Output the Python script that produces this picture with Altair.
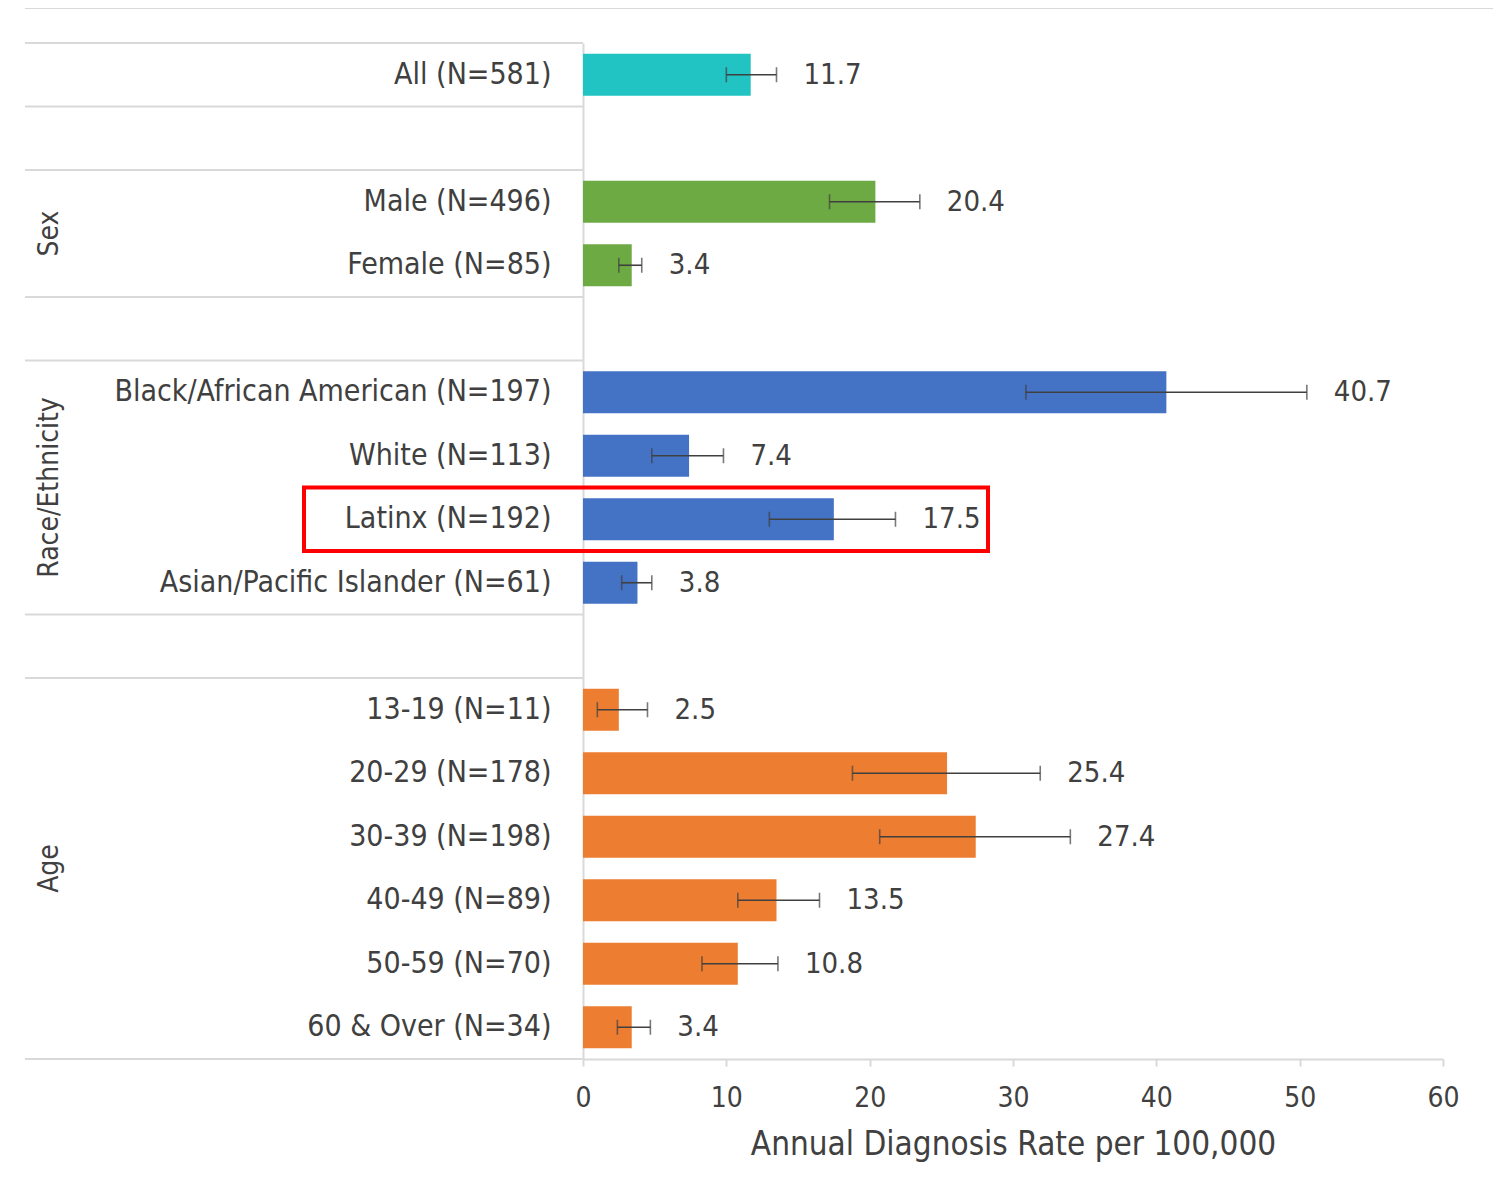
import altair as alt
import pandas as pd

FONT = "DejaVu Sans Condensed"
TXT = "#404040"
LINE = "#d9d9d9"

# slot order (blank slots separate the groups)
slots = ["All (N=581)", "_gap1", "Male (N=496)", "Female (N=85)", "_gap2",
         "Black/African American (N=197)", "White (N=113)", "Latinx (N=192)",
         "Asian/Pacific Islander (N=61)", "_gap3",
         "13-19 (N=11)", "20-29 (N=178)", "30-39 (N=198)", "40-49 (N=89)",
         "50-59 (N=70)", "60 & Over (N=34)"]
categories = [s for s in slots if not s.startswith("_")]
groups = ["All", "Sex", "Sex", "Race/Ethnicity", "Race/Ethnicity", "Race/Ethnicity",
          "Race/Ethnicity", "Age", "Age", "Age", "Age", "Age", "Age"]
values = [11.7, 20.4, 3.4, 40.7, 7.4, 17.5, 3.8, 2.5, 25.4, 27.4, 13.5, 10.8, 3.4]
lower = [10.0, 17.2, 2.5, 30.9, 4.8, 13.0, 2.7, 1.0, 18.8, 20.7, 10.8, 8.3, 2.4]
upper = [13.5, 23.5, 4.1, 50.5, 9.8, 21.8, 4.8, 4.5, 31.9, 34.0, 16.5, 13.6, 4.7]

group_names = ["All", "Sex", "Race/Ethnicity", "Age"]
group_colors = ["#22C3C3", "#6EAA44", "#4472C4", "#ED7D31"]

# separators (top edge of these slots), and group titles (bottom edge of these slots)
sep_slots = ["All (N=581)", "_gap1", "Male (N=496)", "_gap2",
             "Black/African American (N=197)", "_gap3", "13-19 (N=11)"]
sep_bottom = ["60 & Over (N=34)"]
title_slots = ["Male (N=496)", "White (N=113)", "30-39 (N=198)"]
title_texts = ["Sex", "Race/Ethnicity", "Age"]
highlight = ["Latinx (N=192)"]

df = pd.DataFrame({"cat": categories, "group": groups, "value": values,
                   "lo": lower, "hi": upper})
df["label"] = df["value"].map(lambda v: f"{v:.1f}")

yscale = alt.Scale(domain=slots, paddingInner=0, paddingOuter=0)
xscale = alt.Scale(domain=[0, 60], nice=False)

yenc = alt.Y("cat:N", scale=yscale, sort=slots,
             axis=alt.Axis(title=None, ticks=False, labelPadding=32,
                           labelExpr="indexof(datum.value, '_gap') == 0 ? '' : datum.value",
                           labelFontSize=30, labelFont=FONT, labelColor=TXT,
                           domainColor=LINE, domainWidth=2, labelLimit=600))

base = alt.Chart(df)

bars = base.mark_bar(height=alt.RelativeBandSize(0.66)).encode(
    x=alt.X("value:Q", scale=xscale,
            axis=alt.Axis(values=[0, 10, 20, 30, 40, 50, 60], grid=False,
                          title="Annual Diagnosis Rate per 100,000",
                          titleFont=FONT, titleFontSize=33, titleFontWeight="normal",
                          titleColor=TXT, titlePadding=16,
                          labelFont=FONT, labelFontSize=28, labelColor=TXT,
                          labelPadding=18, labelFlush=False, tickColor=LINE, tickSize=7,
                          tickWidth=2, domainColor=LINE, domainWidth=2)),
    y=yenc,
    color=alt.Color("group:N", scale=alt.Scale(domain=group_names, range=group_colors),
                    legend=None),
)

err = base.mark_rule(color="#404040", strokeWidth=1.6).encode(
    x="lo:Q", x2="hi:Q", y=alt.Y("cat:N", scale=yscale, sort=slots))
cap_lo = base.mark_tick(color="#404040", thickness=1.6, size=15, orient="vertical").encode(
    x="lo:Q", y=alt.Y("cat:N", scale=yscale, sort=slots))
cap_hi = base.mark_tick(color="#404040", thickness=1.6, size=15, orient="vertical").encode(
    x="hi:Q", y=alt.Y("cat:N", scale=yscale, sort=slots))

labels = base.mark_text(align="left", baseline="middle", dx=27, font=FONT,
                        fontSize=29, color=TXT).encode(
    x="hi:Q", y=alt.Y("cat:N", scale=yscale, sort=slots), text="label:N")

sep_df = pd.DataFrame({"cat": sep_slots})
seps = alt.Chart(sep_df).mark_rule(color=LINE, strokeWidth=2).encode(
    y=alt.Y("cat:N", scale=yscale, sort=slots, bandPosition=0),
    x=alt.value(-558), x2=alt.value(0))
sepb = alt.Chart(pd.DataFrame({"cat": sep_bottom})).mark_rule(color=LINE, strokeWidth=2).encode(
    y=alt.Y("cat:N", scale=yscale, sort=slots, bandPosition=1),
    x=alt.value(-558), x2=alt.value(0))

top_border = alt.Chart(pd.DataFrame({"cat": ["All (N=581)"]})).mark_rule(
    color=LINE, strokeWidth=2).encode(
    x=alt.value(-558), x2=alt.value(910), y=alt.value(-35))

gt = alt.Chart(pd.DataFrame({"cat": title_slots, "t": title_texts})).mark_text(
    angle=270, align="center", baseline="middle", font=FONT, fontSize=28, color=TXT).encode(
    y=alt.Y("cat:N", scale=yscale, sort=slots, bandPosition=1),
    x=alt.value(-533), text="t:N")

box = alt.Chart(pd.DataFrame({"cat": highlight})).mark_rect(
    fill=None, fillOpacity=0, stroke="#FF0000", strokeWidth=4).encode(
    y=alt.Y("cat:N", scale=yscale, sort=slots),
    x=alt.value(-279), x2=alt.value(405))

chart = alt.layer(bars, err, cap_lo, cap_hi, labels, seps, sepb, top_border, gt, box).properties(
    width=860, height=1016,
    autosize=alt.AutoSizeParams(type="none"),
    padding={"left": 575, "top": 35, "right": 50, "bottom": 140},
).configure(background="white").configure_view(stroke=None, strokeWidth=0)

chart.save("out.html", embed_options={"renderer": "svg", "actions": False})
